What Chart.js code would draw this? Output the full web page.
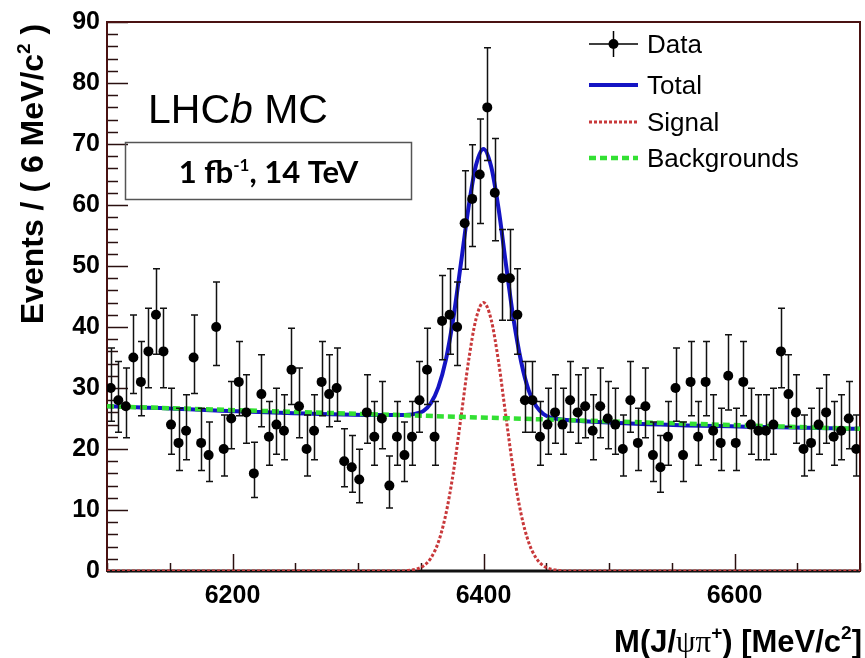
<!DOCTYPE html>
<html>
<head>
<meta charset="utf-8">
<script src="https://cdn.jsdelivr.net/npm/chart.js@4.4.1/dist/chart.umd.min.js"></script>
<style>
  html, body { margin: 0; padding: 0; background: #fff; }
  canvas { display: block; }
</style>
</head>
<body>
<canvas id="massChart" width="865" height="658"></canvas>
<script>
// bin centres, 6 MeV bins from 6100 to 6700
const binCenters = [
  6103, 6109, 6115, 6121, 6127, 6133, 6139, 6145, 6151, 6157,
  6163, 6169, 6175, 6181, 6187, 6193, 6199, 6205, 6211, 6217,
  6223, 6229, 6235, 6241, 6247, 6253, 6259, 6265, 6271, 6277,
  6283, 6289, 6295, 6301, 6307, 6313, 6319, 6325, 6331, 6337,
  6343, 6349, 6355, 6361, 6367, 6373, 6379, 6385, 6391, 6397,
  6403, 6409, 6415, 6421, 6427, 6433, 6439, 6445, 6451, 6457,
  6463, 6469, 6475, 6481, 6487, 6493, 6499, 6505, 6511, 6517,
  6523, 6529, 6535, 6541, 6547, 6553, 6559, 6565, 6571, 6577,
  6583, 6589, 6595, 6601, 6607, 6613, 6619, 6625, 6631, 6637,
  6643, 6649, 6655, 6661, 6667, 6673, 6679, 6685, 6691, 6697,
];

const events = [
  30, 28, 27, 35, 31, 36, 42, 36, 24, 21,
  23, 35, 21, 19, 40, 20, 25, 31, 26, 16,
  29, 22, 24, 23, 33, 27, 20, 23, 31, 29,
  30, 18, 17, 15, 26, 22, 25, 14, 22, 19,
  22, 28, 33, 22, 41, 42, 40, 57, 61, 65,
  76, 62, 48, 48, 42, 28, 28, 22, 24, 26,
  24, 28, 26, 27, 23, 27, 25, 24, 20, 28,
  21, 27, 19, 17, 22, 30, 19, 31, 22, 31,
  23, 21, 32, 21, 31, 24, 23, 23, 24, 36,
  29, 26, 20, 21, 24, 26, 22, 23, 25, 20,
];

// fit curves
const curveMass = [6100, 6334, 6340, 6346, 6352, 6358, 6364, 6370, 6376, 6382, 6388, 6394,
  6400, 6406, 6412, 6418, 6424, 6430, 6436, 6442, 6448, 6454, 6460, 6466, 6700];
const totalValues = [27.0, 25.56, 25.6, 25.8, 26.2, 27.5, 30.1, 34.6, 41.5, 50.4, 59.5, 66.5,
  69.2, 66.4, 59.4, 50.1, 41.2, 34.3, 29.6, 27.0, 25.7, 25.1, 24.9, 24.75, 23.3];
const signalValues = [0, 0, 0.1, 0.3, 0.8, 2.1, 4.7, 9.3, 16.2, 25.1, 34.3, 41.3,
  44.0, 41.3, 34.3, 25.1, 16.2, 9.3, 4.7, 2.1, 0.8, 0.3, 0.1, 0, 0];
const backgroundMass = [6100, 6700];
const backgroundValues = [27.0, 23.3];

const massTicks = [6200, 6400, 6600];
const countTicks = [0, 10, 20, 30, 40, 50, 60, 70, 80, 90];

const legendItems = ["Data", "Total", "Signal", "Backgrounds"];

const BLUE = "#1414c4";
const RED = "#c8383a";
const GREEN = "#33e033";
const FRAME = "#4a1212";

// Poisson 68% interval for a count
function poissonUp(n) { return n + 1 + Math.sqrt(n + 0.75); }
function poissonDown(n) { return n * Math.pow(1 - 1 / (9 * n) - 1 / (3 * Math.sqrt(n)), 3); }

function toPoints(xs, ys) {
  return xs.map((x, i) => ({ x: x, y: ys[i] }));
}

function drawPieces(ctx, pieces, x, y) {
  let cx = x;
  pieces.forEach(p => {
    ctx.font = p.font;
    ctx.fillText(p.text, cx, y + (p.dy || 0));
    cx += ctx.measureText(p.text).width;
  });
}

function piecesWidth(ctx, pieces) {
  return pieces.reduce((w, p) => {
    ctx.font = p.font;
    return w + ctx.measureText(p.text).width;
  }, 0);
}

const errorBars = {
  id: "errorBars",
  beforeDatasetDraw(chart, args) {
    if (args.index !== 0) return;
    const ctx = chart.ctx;
    const xs = chart.scales.x, ys = chart.scales.y;
    ctx.save();
    ctx.strokeStyle = "#111";
    ctx.lineWidth = 1.5;
    binCenters.forEach((m, i) => {
      const n = events[i];
      const x = Math.round(xs.getPixelForValue(m)) + 0.5;
      const top = ys.getPixelForValue(poissonUp(n));
      const bot = ys.getPixelForValue(poissonDown(n));
      ctx.beginPath();
      ctx.moveTo(x, top); ctx.lineTo(x, bot);
      ctx.moveTo(x - 3.5, top); ctx.lineTo(x + 3.5, top);
      ctx.moveTo(x - 3.5, bot); ctx.lineTo(x + 3.5, bot);
      ctx.stroke();
    });
    ctx.restore();
  },
};

const frameAndTicks = {
  id: "frameAndTicks",
  beforeDatasetsDraw(chart) {
    const ctx = chart.ctx;
    const a = chart.chartArea;
    const xs = chart.scales.x, ys = chart.scales.y;
    ctx.save();
    ctx.strokeStyle = "#2a1010";
    ctx.lineWidth = 1.5;
    for (let v = 0; v <= 90; v += 2) {
      const y = Math.round(ys.getPixelForValue(v)) + 0.5;
      const len = countTicks.includes(v) ? 21 : 11;
      ctx.beginPath();
      ctx.moveTo(a.left, y); ctx.lineTo(a.left + len, y);
      ctx.stroke();
    }
    for (let m = 6100; m <= 6700; m += 50) {
      const x = Math.round(xs.getPixelForValue(m)) + 0.5;
      const len = massTicks.includes(m) ? 17 : 8;
      ctx.beginPath();
      ctx.moveTo(x, a.bottom); ctx.lineTo(x, a.bottom - len);
      ctx.stroke();
    }
    ctx.strokeStyle = FRAME;
    ctx.lineWidth = 2;
    ctx.strokeRect(a.left, a.top, a.right - a.left, a.bottom - a.top);
    ctx.strokeStyle = "#111";
    ctx.lineWidth = 3;
    ctx.beginPath();
    ctx.moveTo(a.left, a.bottom); ctx.lineTo(a.right, a.bottom);
    ctx.stroke();
    ctx.restore();
  },
};

const annotations = {
  id: "annotations",
  afterDraw(chart) {
    const ctx = chart.ctx;
    ctx.save();
    ctx.fillStyle = "#000";
    ctx.textBaseline = "alphabetic";

    // LHCb MC
    drawPieces(ctx, [
      { text: "LHC", font: "41px 'Liberation Sans'" },
      { text: "b", font: "italic 41px 'Liberation Sans'" },
      { text: " MC", font: "41px 'Liberation Sans'" },
    ], 148, 123);

    // luminosity box
    ctx.strokeStyle = "#555";
    ctx.lineWidth = 1.5;
    ctx.strokeRect(125.5, 142.5, 286, 57);
    const lumi = [
      { text: "1 fb", font: "bold 31px Lato" },
      { text: "-1", font: "bold 17px Lato", dy: -12 },
      { text: ", 14 TeV", font: "bold 31px Lato" },
    ];
    drawPieces(ctx, lumi, 268.5 - piecesWidth(ctx, lumi) / 2, 183);

    // legend
    const lx0 = 589, lx1 = 638, rows = [44, 85, 122, 158];
    ctx.lineWidth = 1.5;
    ctx.strokeStyle = "#000";
    ctx.beginPath();
    ctx.moveTo(lx0, rows[0]); ctx.lineTo(lx1, rows[0]);
    ctx.moveTo(613.5, rows[0] - 13); ctx.lineTo(613.5, rows[0] + 13);
    ctx.stroke();
    ctx.beginPath();
    ctx.arc(613.5, rows[0], 5, 0, Math.PI * 2);
    ctx.fill();

    ctx.lineWidth = 4;
    ctx.strokeStyle = BLUE;
    ctx.beginPath(); ctx.moveTo(lx0, rows[1]); ctx.lineTo(lx1, rows[1]); ctx.stroke();

    ctx.lineWidth = 3;
    ctx.strokeStyle = RED;
    ctx.setLineDash([3, 2]);
    ctx.beginPath(); ctx.moveTo(lx0, rows[2]); ctx.lineTo(lx1, rows[2]); ctx.stroke();

    ctx.lineWidth = 4.5;
    ctx.strokeStyle = GREEN;
    ctx.setLineDash([7, 4]);
    ctx.beginPath(); ctx.moveTo(lx0, rows[3]); ctx.lineTo(lx1, rows[3]); ctx.stroke();
    ctx.setLineDash([]);

    ctx.font = "26px 'Liberation Sans'";
    ctx.textBaseline = "middle";
    legendItems.forEach((label, i) => ctx.fillText(label, 647, rows[i] + 2));
    ctx.textBaseline = "alphabetic";

    // x title
    const xTitle = [
      { text: "M(J/", font: "bold 31px 'Liberation Sans'" },
      { text: "ψπ", font: "31px 'Liberation Serif'" },
      { text: "+", font: "bold 19px 'Liberation Sans'", dy: -13 },
      { text: ") [MeV/c", font: "bold 31px 'Liberation Sans'" },
      { text: "2", font: "bold 19px 'Liberation Sans'", dy: -13 },
      { text: "]", font: "bold 31px 'Liberation Sans'" },
    ];
    drawPieces(ctx, xTitle, 862 - piecesWidth(ctx, xTitle), 652);

    // y title
    const yTitle = [
      { text: "Events / ( 6 MeV/c", font: "bold 32px 'Liberation Sans'" },
      { text: "2", font: "bold 19px 'Liberation Sans'", dy: -13 },
      { text: " )", font: "bold 32px 'Liberation Sans'" },
    ];
    ctx.translate(43, 174);
    ctx.rotate(-Math.PI / 2);
    drawPieces(ctx, yTitle, -piecesWidth(ctx, yTitle) / 2, 0);
    ctx.restore();
  },
};

new Chart(document.getElementById("massChart"), {
  type: "line",
  data: {
    datasets: [
      {
        label: "Data",
        data: toPoints(binCenters, events),
        showLine: false,
        pointRadius: 5,
        pointBackgroundColor: "#000",
        pointBorderWidth: 0,
        order: 0,
      },
      {
        label: "Backgrounds",
        data: toPoints(backgroundMass, backgroundValues),
        borderColor: GREEN,
        borderWidth: 4.5,
        borderDash: [7, 4],
        pointRadius: 0,
        order: 1,
      },
      {
        label: "Signal",
        data: toPoints(curveMass, signalValues),
        borderColor: RED,
        borderWidth: 3,
        borderDash: [3, 2],
        pointRadius: 0,
        cubicInterpolationMode: "monotone",
        order: 2,
      },
      {
        label: "Total",
        data: toPoints(curveMass, totalValues),
        borderColor: BLUE,
        borderWidth: 4,
        pointRadius: 0,
        cubicInterpolationMode: "monotone",
        order: 3,
      },
    ],
  },
  options: {
    responsive: false,
    animation: false,
    devicePixelRatio: 1,
    layout: { padding: { top: 16, right: 3, left: 0, bottom: 0 } },
    plugins: { legend: { display: false }, tooltip: { enabled: false } },
    scales: {
      x: {
        type: "linear",
        min: 6100,
        max: 6700,
        grid: { display: false, drawTicks: false },
        border: { display: false },
        afterBuildTicks: scale => { scale.ticks = massTicks.map(v => ({ value: v })); },
        afterFit: scale => { scale.height = 87; },
        ticks: {
          padding: 10,
          color: "#000",
          font: { family: "'Liberation Sans'", size: 25, weight: "bold" },
          maxRotation: 0,
          callback: value => String(value),
        },
      },
      y: {
        min: 0,
        max: 90,
        grid: { display: false, drawTicks: false },
        border: { display: false },
        afterBuildTicks: scale => { scale.ticks = countTicks.map(v => ({ value: v })); },
        afterFit: scale => { scale.width = 107; },
        ticks: {
          padding: 7,
          color: "#000",
          font: { family: "'Liberation Sans'", size: 25, weight: "bold" },
          callback: value => String(value),
        },
      },
    },
  },
  plugins: [errorBars, frameAndTicks, annotations],
});
</script>
</body>
</html>
